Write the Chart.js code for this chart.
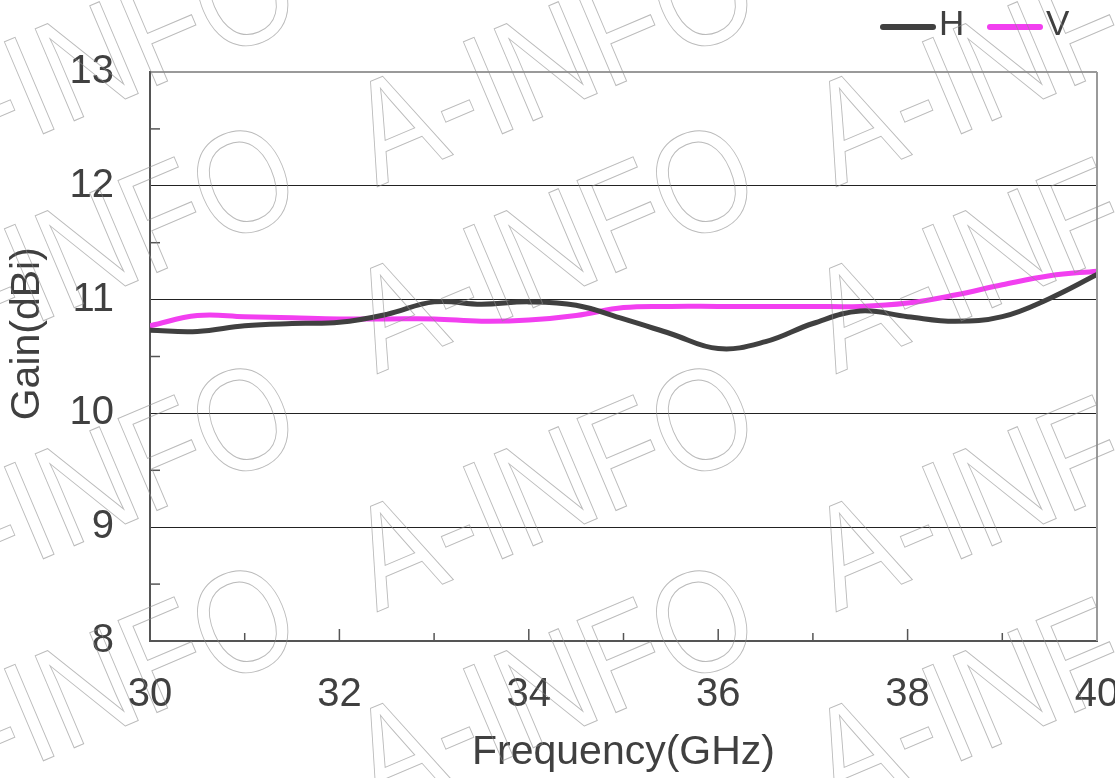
<!DOCTYPE html>
<html>
<head>
<meta charset="utf-8">
<script src="https://cdn.jsdelivr.net/npm/chart.js@4.4.1/dist/chart.umd.min.js"></script>
<style>
  html, body { margin: 0; padding: 0; background: #fff; }
  #wrap { width: 1115px; height: 778px; }
</style>
</head>
<body>
<div id="wrap"><canvas id="gainChart" width="1115" height="778"></canvas></div>
<script>
// data
const freq = [30, 30.5, 31, 31.5, 32, 32.5, 33, 33.5, 34, 34.5, 35, 35.5, 36, 36.5, 37, 37.5, 38, 38.5, 39, 39.5, 40];
const gainH = [10.73, 10.72, 10.77, 10.79, 10.80, 10.87, 10.98, 10.96, 10.98, 10.95, 10.83, 10.70, 10.57, 10.63, 10.79, 10.90, 10.85, 10.81, 10.85, 11.01, 11.22];
const gainV = [10.77, 10.86, 10.85, 10.84, 10.83, 10.83, 10.83, 10.81, 10.82, 10.86, 10.93, 10.94, 10.94, 10.94, 10.94, 10.94, 10.97, 11.04, 11.13, 11.21, 11.25];
const seriesNames = ['H', 'V'];
const yTicks = [8, 9, 10, 11, 12, 13];
const xTicks = [30, 32, 34, 36, 38, 40];

const textColor = '#404040';
const font = 'Liberation Sans, Arial, sans-serif';

// inward tick marks, right border, legend and watermark
const extras = {
  id: 'extras',
  afterDatasetsDraw(chart) {
    const c = chart.ctx;
    const a = chart.chartArea;
    const xs = chart.scales.x, ys = chart.scales.y;
    c.save();
    c.strokeStyle = '#555';
    c.lineWidth = 1.5;
    for (let v = 31; v < 40; v++) {
      const px = xs.getPixelForValue(v);
      const len = v % 2 === 0 ? 12 : 8;
      c.beginPath(); c.moveTo(px, a.bottom); c.lineTo(px, a.bottom - len); c.stroke();
    }
    for (let v = 8.5; v < 13; v += 1) {
      const py = ys.getPixelForValue(v);
      c.beginPath(); c.moveTo(a.left, py); c.lineTo(a.left + 10, py); c.stroke();
    }
    // right border
    c.strokeStyle = '#9a9a9a';
    c.lineWidth = 2;
    c.beginPath(); c.moveTo(a.right, a.top); c.lineTo(a.right, a.bottom); c.stroke();
    c.restore();
  },
  afterDraw(chart) {
    const c = chart.ctx;
    c.save();
    // legend
    c.font = '35px ' + font;
    c.textBaseline = 'middle';
    c.lineCap = 'round';
    let lx = 883;
    chart.data.datasets.forEach(ds => {
      c.strokeStyle = ds.borderColor;
      c.lineWidth = 6;
      c.beginPath(); c.moveTo(lx, 27); c.lineTo(lx + 50, 27); c.stroke();
      c.fillStyle = textColor;
      c.fillText(ds.label, lx + 56, 25);
      lx += 107;
    });
    // watermark
    const cols = [-62, 393, 848];
    const rows = [135, 322, 560, 762];
    c.strokeStyle = 'rgba(140,140,140,0.6)';
    c.lineWidth = 1;
    c.font = '145px ' + font;
    c.textBaseline = 'middle';
    c.textAlign = 'left';
    cols.forEach((cx, i) => {
      rows.forEach(ry => {
        c.save();
        c.translate(cx + i * 4, ry);
        c.rotate(-23 * Math.PI / 180);
        c.scale(0.86, 1);
        c.strokeText('A-INFO', -45, 0);
        c.restore();
      });
    });
    c.restore();
  }
};

new Chart(document.getElementById('gainChart'), {
  type: 'line',
  data: {
    labels: freq,
    datasets: [{
      label: seriesNames[0],
      data: freq.map((f, i) => ({ x: f, y: gainH[i] })),
      borderColor: '#404040',
      borderWidth: 5,
      pointRadius: 0,
      tension: 0.4
    }, {
      label: seriesNames[1],
      data: freq.map((f, i) => ({ x: f, y: gainV[i] })),
      borderColor: '#f23ff0',
      borderWidth: 5,
      pointRadius: 0,
      tension: 0.4
    }]
  },
  options: {
    responsive: false,
    animation: false,
    layout: { padding: { top: 72, right: 18, left: 0, bottom: 0 } },
    plugins: { legend: { display: false }, tooltip: { enabled: false } },
    scales: {
      x: {
        type: 'linear',
        min: 30, max: 40,
        afterBuildTicks(scale) { scale.ticks = xTicks.map(v => ({ value: v })); },
        afterFit(scale) { scale.height = 137; scale.paddingLeft = 0; scale.paddingRight = 0; },
        ticks: { color: textColor, font: { family: font, size: 40 }, padding: 30, maxRotation: 0 },
        grid: { display: false, drawTicks: false },
        border: { color: '#555', width: 2 },
        title: { display: true, text: 'Frequency(GHz)', color: textColor, font: { family: font, size: 41 }, padding: { top: 0, bottom: 1 } }
      },
      y: {
        min: 8, max: 13,
        afterBuildTicks(scale) { scale.ticks = yTicks.map(v => ({ value: v })); },
        afterFit(scale) { scale.width = 150; },
        ticks: { color: textColor, font: { family: font, size: 40 }, padding: 36 },
        grid: {
          drawTicks: false,
          color: ctx => ctx.tick.value === 13 ? '#9a9a9a' : (ctx.tick.value === 8 ? 'rgba(0,0,0,0)' : '#222'),
          lineWidth: ctx => ctx.tick.value === 13 ? 2 : 1
        },
        border: { color: '#555', width: 2 },
        title: { display: true, text: '    Gain(dBi)', color: textColor, font: { family: font, size: 41 }, padding: { top: 3, bottom: 0 } }
      }
    }
  },
  plugins: [extras]
});
</script>
</body>
</html>
